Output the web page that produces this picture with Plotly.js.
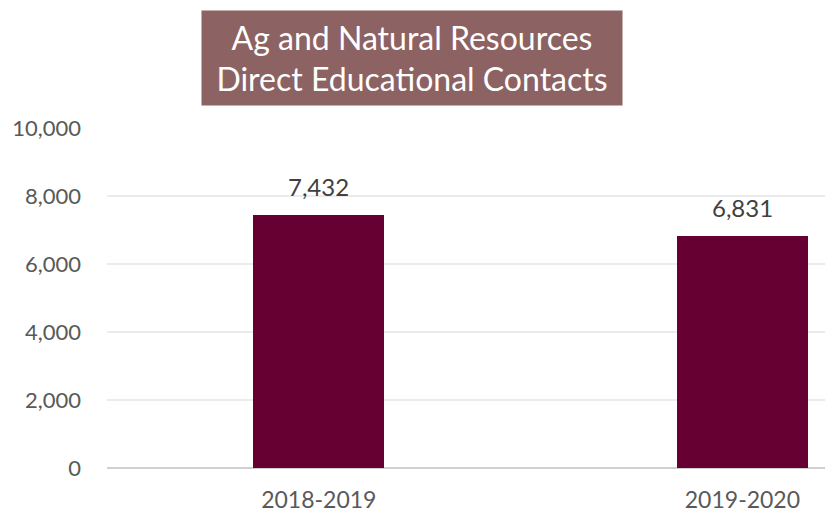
<!DOCTYPE html>
<html><head><meta charset="utf-8">
<script src="https://cdn.plot.ly/plotly-3.0.1.min.js"></script>
<style>html,body{margin:0;padding:0;background:#fff}#c{width:825px;height:514px}</style>
</head><body><div id="c"></div>
<script>
const categories = ["2018-2019", "2019-2020"];
const contacts = [7432, 6831];
const yTicks = [0, 2000, 4000, 6000, 8000, 10000];
const titleLines = ["Ag and Natural Resources", "Direct Educational Contacts"];

const font = "Lato, 'Open Sans', sans-serif";
const fmt = v => v.toLocaleString("en-US");
const trace = {
  type: "bar", x: categories, y: contacts,
  marker: {color: "#660033"}, width: 0.31,
  hoverinfo: "none"
};
const labelAnns = categories.map((c, i) => ({
  x: c, y: contacts[i], xref: "x", yref: "y", text: fmt(contacts[i]),
  showarrow: false, yanchor: "bottom", xanchor: "center", yshift: 12,
  font: {family: font, size: 24, color: "#404040"}
}));
const layout = {
  width: 825, height: 514,
  margin: {l: 107, r: 0, t: 128, b: 46},
  paper_bgcolor: "#fff", plot_bgcolor: "#fff",
  showlegend: false, bargap: 0,
  xaxis: {range: [-0.5, 1.195], showgrid: false, zeroline: false, showline: false,
    ticks: "", ticklabelstandoff: 16, tickfont: {family: font, size: 23, color: "#595959"}, fixedrange: true},
  yaxis: {range: [0, 10000], tickvals: yTicks, ticktext: yTicks.map(fmt),
    showgrid: true, gridcolor: "#ebebeb", gridwidth: 1.5, zeroline: true, zerolinecolor: "#d0d0d0",
    zerolinewidth: 1.5, showline: false, ticks: "", ticklabelstandoff: 25,
    tickfont: {family: font, size: 22, color: "#595959"}, fixedrange: true},
  annotations: [{
    text: titleLines.join("<br>"), xref: "paper", yref: "paper",
    x: (412 - 107) / 718, y: 1 + (128 - 57.5) / 340, xanchor: "center", yanchor: "middle",
    showarrow: false, bgcolor: "#8c6262", borderpad: 6, width: 408, height: 82,
    font: {family: font, size: 32, color: "#ffffff"}
  }].concat(labelAnns)
};
Plotly.newPlot("c", [trace], layout, {displayModeBar: false, staticPlot: true});
</script></body></html>
